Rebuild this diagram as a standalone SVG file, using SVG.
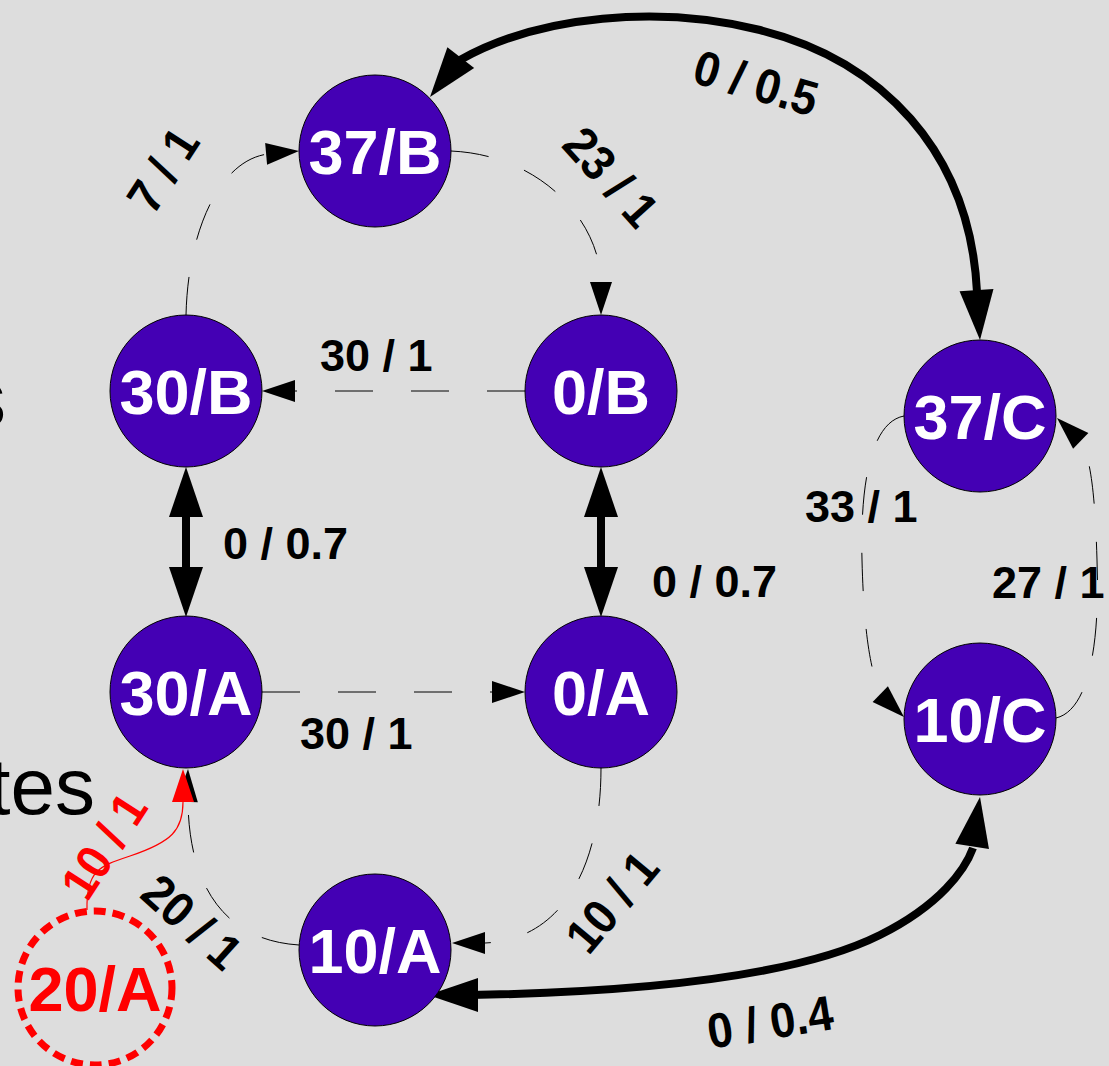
<svg xmlns="http://www.w3.org/2000/svg" xmlns:xlink="http://www.w3.org/1999/xlink" width="1109" height="1066" viewBox="0 0 1109 1066">
<defs>
<style>
.node{fill:#4400b4;stroke:#000;stroke-width:1}
.nt{fill:#fff;font-family:"Liberation Sans",Arial,sans-serif;font-weight:bold;font-size:63px;text-anchor:middle}
.lbl{fill:#000;font-family:"Liberation Sans",Arial,sans-serif;font-weight:bold;font-size:45px}
.rl{text-anchor:middle;font-size:49px}
.dash{fill:none;stroke:#000;stroke-width:1;stroke-dasharray:38 38}
.thick{fill:none;stroke:#000;stroke-width:8}
.bg{font-family:"Liberation Sans",Arial,sans-serif;font-size:80px;fill:#000}
</style>
<path id="ah" d="M0,0 L-33,-11 L-33,11 Z"/>
<path id="AH" d="M0,0 L-50,-17 L-50,17 Z"/>
</defs>
<rect width="1109" height="1066" fill="#dddddd"/>
<text class="bg" x="6" y="426" text-anchor="end">s</text>
<text class="bg" x="95" y="814" text-anchor="end">tes</text>

<g id="connectors">
  <!-- 30/B -> 37/B -->
  <path class="dash" d="M186,315 C188,230 220,160 268,154"/>
  <use href="#ah" transform="translate(299,151) rotate(-5)"/>
  <!-- 37/B -> 0/B -->
  <path class="dash" d="M451,151 C540,155 600,220 601,283"/>
  <use href="#ah" transform="translate(601,315) rotate(90)"/>
  <!-- 0/B -> 30/B -->
  <path class="dash" d="M525,391 L295,391"/>
  <use href="#ah" transform="translate(262,391) rotate(180)"/>
  <!-- 30/A -> 0/A -->
  <path class="dash" d="M262,692 L492,692"/>
  <use href="#ah" transform="translate(525,692)"/>
  <!-- 0/A -> 10/A -->
  <path class="dash" d="M601,768 C601,870 560,940 485,943"/>
  <use href="#ah" transform="translate(452,943) rotate(180)"/>
  <!-- 10/A -> 30/A -->
  <path class="dash" d="M299,945 C220,940 189,880 188,802"/>
  <use href="#ah" transform="translate(188,769) rotate(-88)"/>
  <!-- 37/C -> 10/C -->
  <path class="dash" d="M904,416 C872,422 860,480 862,560 C864,640 872,675 881,695"/>
  <use href="#ah" transform="translate(904,717) rotate(44)"/>
  <!-- 10/C -> 37/C -->
  <path class="dash" d="M1056,718 C1090,710 1100,640 1097,560 C1095,490 1090,455 1080,440"/>
  <use href="#ah" transform="translate(1057,418) rotate(-136)"/>
  <!-- 30/B <-> 30/A -->
  <path class="thick" d="M186,515 L186,569"/>
  <use href="#AH" transform="translate(186,467) rotate(-90)"/>
  <use href="#AH" transform="translate(186,617) rotate(90)"/>
  <!-- 0/B <-> 0/A -->
  <path class="thick" d="M601,515 L601,569"/>
  <use href="#AH" transform="translate(601,467) rotate(-90)"/>
  <use href="#AH" transform="translate(601,617) rotate(90)"/>
  <!-- 37/B <-> 37/C -->
  <path class="thick" d="M460,60 C540,15 660,5 760,30 C880,60 970,150 977,292"/>
  <use href="#AH" transform="translate(430,97) rotate(128)"/>
  <use href="#AH" transform="translate(980,340) rotate(86)"/>
  <!-- 10/A <-> 10/C -->
  <path class="thick" d="M470,995 C650,992 800,975 880,935 C940,905 965,870 973,848"/>
  <use href="#AH" transform="translate(428,995) rotate(180)"/>
  <use href="#AH" transform="translate(980,797) rotate(-81)"/>
  <!-- 20/A -> 30/A (red) -->
  <path d="M87,910 C86,870 100,866 130,856 C172,842 183,830 183,802" fill="none" stroke="#ff0000" stroke-width="1.2"/>
  <use href="#ah" transform="translate(183,769) rotate(-90)" fill="#ff0000"/>
</g>

<g id="labels">
  <text class="lbl" x="320" y="371">30 / 1</text>
  <text class="lbl" x="223" y="559">0 / 0.7</text>
  <text class="lbl" x="652" y="597">0 / 0.7</text>
  <text class="lbl" x="300" y="749">30 / 1</text>
  <text class="lbl" x="805" y="522">33 / 1</text>
  <text class="lbl" x="992" y="598">27 / 1</text>
  <text class="lbl rl" transform="translate(163,170) rotate(-57) scale(0.93,1)" y="17">7 / 1</text>
  <text class="lbl rl" transform="translate(611,177) rotate(48) scale(0.93,1)" y="17">23 / 1</text>
  <text class="lbl rl" transform="translate(756,83) rotate(16) scale(0.93,1)" y="17">0 / 0.5</text>
  <text class="lbl rl" transform="translate(770,1022) rotate(-9) scale(0.93,1)" y="17">0 / 0.4</text>
  <text class="lbl rl" transform="translate(612,902) rotate(-50) scale(0.93,1)" y="17">10 / 1</text>
  <text class="lbl rl" transform="translate(192,922) rotate(42) scale(0.93,1)" y="17">20 / 1</text>
  <text class="lbl rl" transform="translate(104,846) rotate(-57) scale(0.93,1)" y="17" style="fill:#ff0000">10 / 1</text>
</g>

<g id="n37B"><circle class="node" cx="375" cy="151" r="76"/><text class="nt" x="375" y="174">37/B</text></g>
<g id="n30B"><circle class="node" cx="186" cy="391" r="76"/><text class="nt" x="186" y="414">30/B</text></g>
<g id="n0B"><circle class="node" cx="601" cy="391" r="76"/><text class="nt" x="601" y="414">0/B</text></g>
<g id="n30A"><circle class="node" cx="186" cy="692" r="76"/><text class="nt" x="186" y="715">30/A</text></g>
<g id="n0A"><circle class="node" cx="601" cy="692" r="76"/><text class="nt" x="601" y="715">0/A</text></g>
<g id="n10A"><circle class="node" cx="375" cy="950" r="76"/><text class="nt" x="375" y="973">10/A</text></g>
<g id="n37C"><circle class="node" cx="980" cy="416" r="76"/><text class="nt" x="980" y="439">37/C</text></g>
<g id="n10C"><circle class="node" cx="980" cy="719" r="76"/><text class="nt" x="980" y="742">10/C</text></g>
<g id="n20A"><circle cx="95" cy="988" r="77" fill="none" stroke="#ff0000" stroke-width="7" stroke-dasharray="12 7"/><text class="nt" x="95" y="1011" style="fill:#ff0000">20/A</text></g>
</svg>
